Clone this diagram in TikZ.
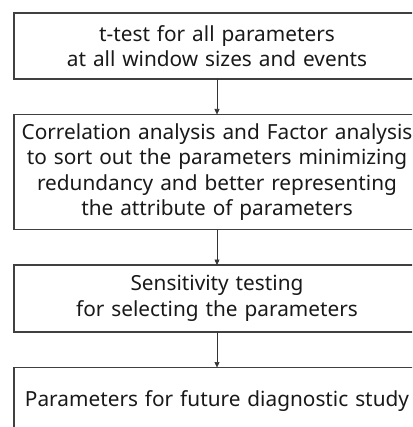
\documentclass[tikz,border=0pt]{standalone}
\usepackage{fontspec}
\setmainfont{Noto Sans}
\usetikzlibrary{positioning, arrows.meta}

\begin{document}
\begin{tikzpicture}[x=1pt, y=1pt,
		stage/.style = {draw=black!75, line width=1.2pt, outer sep=0pt, minimum width=406pt, text width=402pt, inner xsep=2pt, align=center, text=black!90, font=\fontsize{20.8}{25.5}\selectfont}]
			\def\gap{35.5pt};

			\useasboundingbox (0,0) rectangle (412,-427);
			\clip (0,0) rectangle (412,-427);

			\node [stage, anchor=north west, minimum height=66pt] (ttest) at (14,-13)
				{t-test for all parameters\\at all window sizes and events};
			\node [stage, below=\gap of ttest, minimum height=115pt] (factor)
				{Correlation analysis and Factor analysis\\to sort out the parameters minimizing\\redundancy and better representing\\the attribute of parameters};
			\node [stage, below=\gap of factor, minimum height=67pt] (sens)
				{Sensitivity testing\\for selecting the parameters};
			\node [stage, below=\gap of sens, minimum height=68pt] (future)
				{Parameters for future diagnostic study};

			\begin{scope}[-{Triangle[length=5.5pt, width=5pt]}, black!80, line width=0.6pt]
				\draw (ttest) -- (factor);
				\draw (factor) -- (sens);
				\draw (sens) -- (future);
			\end{scope}
\end{tikzpicture}
\end{document}
